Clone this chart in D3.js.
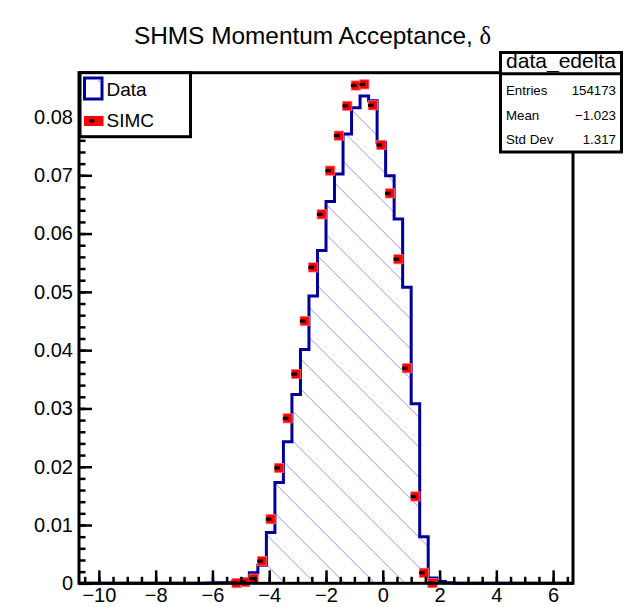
<!DOCTYPE html>
<html><head><meta charset="utf-8">
<script src="https://cdn.jsdelivr.net/npm/d3@7"></script>
<style>html,body{margin:0;padding:0;background:#fff;} svg{display:block;}</style>
</head><body>
<svg id="c" width="625" height="607"></svg>
<script>
// ---- data ----
const dataBinCenters = [-6.05,-5.75,-5.45,-5.15,-4.85,-4.55,-4.25,-3.95,-3.65,-3.35,-3.05,-2.75,-2.45,-2.15,-1.85,-1.55,-1.25,-0.95,-0.65,-0.35,-0.05,0.25,0.55,0.85,1.15,1.45,1.75,2.05,2.35];
const dataValues     = [0.00005,0.0001,0.0001,0.0003,0.0007,0.0018,0.0031,0.0087,0.0173,0.0243,0.0324,0.0401,0.0493,0.0571,0.0655,0.0702,0.0771,0.0816,0.0836,0.0828,0.0756,0.0699,0.0625,0.0508,0.0308,0.0080,0.0009,0.0003,0.0001];
const simcCenters = [-5.15,-4.85,-4.55,-4.25,-3.95,-3.65,-3.35,-3.05,-2.75,-2.45,-2.15,-1.85,-1.55,-1.25,-0.95,-0.65,-0.35,-0.05,0.25,0.55,0.85,1.15,1.45,1.75];
const simcValues  = [0.00003,0.0002,0.0008,0.0038,0.0110,0.0198,0.0283,0.0359,0.0450,0.0542,0.0633,0.0708,0.0768,0.0819,0.0854,0.0856,0.0820,0.0752,0.0669,0.0556,0.0369,0.0149,0.0018,0.00003];
const xTickValues = [-10,-8,-6,-4,-2,0,2,4,6];
const yTickValues = [0,0.01,0.02,0.03,0.04,0.05,0.06,0.07,0.08];
const legendLabels = ["Data","SIMC"];
const statsTitle = "data_edelta";
const statsLabels = ["Entries","Mean","Std Dev"];
const statsValues = ["154173","\u22121.023","1.317"];
const chartTitle = "SHMS Momentum Acceptance, ";
const titleSymbol = "\u03b4";

// ---- drawing ----
const FONT = "'Liberation Sans', Arial, Helvetica, sans-serif";
const svg = d3.select("#c");
svg.append("rect").attr("width",625).attr("height",607).attr("fill","#fff");

const x = d3.scaleLinear().domain([-10.7, 6.7]).range([79, 573]);
const y = d3.scaleLinear().domain([0, 0.0876]).range([583.3, 72.7]);

// title
const title = svg.append("text").attr("x",312.5).attr("y",44).attr("text-anchor","middle")
  .attr("font-family",FONT).attr("font-size",24.4).attr("fill","#000");
title.append("tspan").text(chartTitle);
title.append("tspan").attr("font-family","'Liberation Serif','DejaVu Serif',serif").text(titleSymbol);

// histogram outline
const hw = (dataBinCenters[1]-dataBinCenters[0])/2;
const pts = [[x.domain()[0],0],[dataBinCenters[0]-hw,0]];
dataBinCenters.forEach((c,i)=>{ pts.push([c-hw,dataValues[i]]); pts.push([c+hw,dataValues[i]]); });
pts.push([dataBinCenters[dataBinCenters.length-1]+hw,0]);
pts.push([x.domain()[1],0]);
const line = d3.line().x(d=>x(d[0])).y(d=>y(d[1]));

const defs = svg.append("defs");
defs.append("clipPath").attr("id","hc").append("path").attr("d", line(pts)+"Z");
const hg = svg.append("g").attr("clip-path","url(#hc)");
for (let c=-540; c<=540; c+=30) {
  hg.append("line").attr("x1", c+1.7).attr("y1",0).attr("x2", c+1.7+700).attr("y2",700)
    .attr("stroke","#9393ff").attr("stroke-width",1);
}
svg.append("path").attr("d", line(pts)).attr("fill","none")
  .attr("stroke","#000099").attr("stroke-width",3).attr("stroke-linejoin","miter");

// SIMC markers
const mg = svg.append("g");
simcCenters.forEach((c,i)=>{
  const cx = x(c), cy = y(simcValues[i]);
  mg.append("rect").attr("x",cx-4.6).attr("y",cy-4.6).attr("width",9.2).attr("height",9.2)
    .attr("fill","#ff0000").attr("stroke","#ff7070").attr("stroke-width",0.8);
  mg.append("rect").attr("x",cx-4.8).attr("y",cy-1.6).attr("width",5.6).attr("height",3.2).attr("fill","#000");
});

// axes
function styleAxis(g){
  g.select(".domain").remove();
  g.selectAll(".tick line").attr("stroke","#000").attr("stroke-width",2.5);
  g.selectAll("text").attr("font-family",FONT).attr("font-size",20).attr("fill","#000");
}
const xMinor = d3.range(-21,14).map(k=>k*0.5);
svg.append("g").attr("transform","translate(0,583.3)")
  .call(d3.axisBottom(x).tickValues(xMinor).tickSize(-6.5).tickFormat(""))
  .call(styleAxis);
svg.append("g").attr("transform","translate(0,583.3)")
  .call(d3.axisBottom(x).tickValues(xTickValues).tickSize(-13).tickPadding(5).tickFormat(d3.format("d")))
  .call(styleAxis);
const yMinor = d3.range(0,44).map(k=>k*0.002);
svg.append("g").attr("transform","translate(79,0)")
  .call(d3.axisLeft(y).tickValues(yMinor).tickSize(-6.5).tickFormat(""))
  .call(styleAxis);
svg.append("g").attr("transform","translate(79,0)")
  .call(d3.axisLeft(y).tickValues(yTickValues).tickSize(-13).tickPadding(6)
    .tickFormat(d => d===0 ? "0" : d3.format(".2f")(d)))
  .call(styleAxis);

// frame
svg.append("rect").attr("x",79).attr("y",72.7).attr("width",494).attr("height",510.6)
  .attr("fill","none").attr("stroke","#000").attr("stroke-width",3);

// legend
const lg = svg.append("g");
lg.append("rect").attr("x",80).attr("y",72.7).attr("width",110.5).attr("height",64)
  .attr("fill","#fff").attr("stroke","#000").attr("stroke-width",3);
lg.append("rect").attr("x",84.5).attr("y",78).attr("width",17.5).attr("height",21)
  .attr("fill","#fff").attr("stroke","#000099").attr("stroke-width",3);
lg.append("line").attr("x1",97).attr("y1",79.2).attr("x2",100.8).attr("y2",83)
  .attr("stroke","#8c8cff").attr("stroke-width",1);
lg.append("rect").attr("x",84).attr("y",116).attr("width",19.5).attr("height",10).attr("fill","#ff0000");
lg.append("rect").attr("x",89.3).attr("y",119.4).attr("width",5).attr("height",3).attr("fill","#000");
lg.selectAll("text.leg").data(legendLabels).enter().append("text").attr("class","leg")
  .attr("x",106.5).attr("y",(d,i)=>96+i*31).attr("font-family",FONT).attr("font-size",19)
  .attr("fill","#000").text(d=>d);

// stats box
const sg = svg.append("g");
sg.append("rect").attr("x",500.5).attr("y",52.5).attr("width",121).attr("height",99.5)
  .attr("fill","#fff").attr("stroke","#000").attr("stroke-width",3);
sg.append("line").attr("x1",500.5).attr("y1",73.8).attr("x2",621.5).attr("y2",73.8)
  .attr("stroke","#000").attr("stroke-width",3);
sg.append("text").attr("x",561).attr("y",67.5).attr("text-anchor","middle")
  .attr("font-family",FONT).attr("font-size",21).attr("fill","#000").text(statsTitle);
statsLabels.forEach((l,i)=>{
  sg.append("text").attr("x",506).attr("y",95+i*24.5).attr("font-family",FONT)
    .attr("font-size",13.3).attr("fill","#000").text(l);
  sg.append("text").attr("x",616).attr("y",95+i*24.5).attr("text-anchor","end").attr("font-family",FONT)
    .attr("font-size",13.3).attr("fill","#000").text(statsValues[i]);
});
</script>
</body></html>
